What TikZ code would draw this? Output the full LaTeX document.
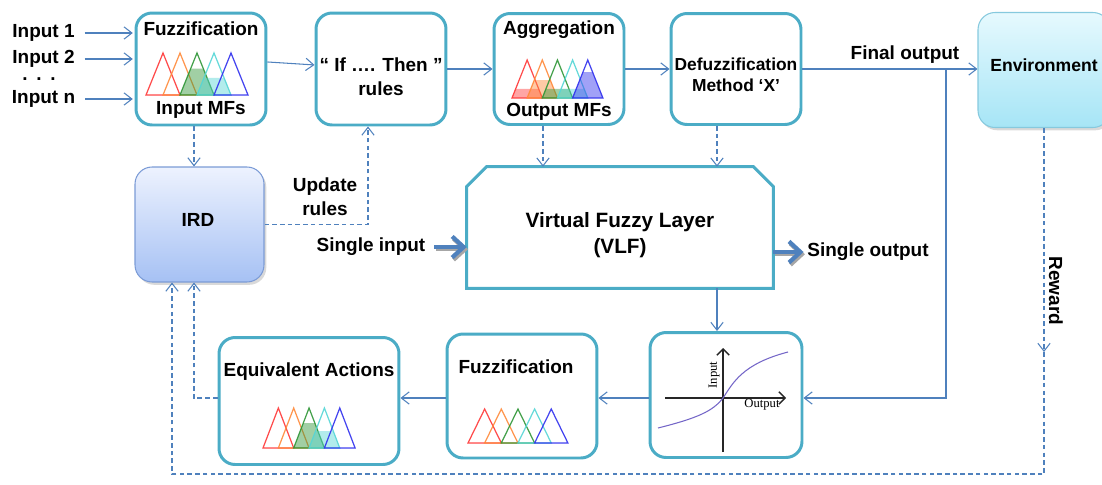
\documentclass[tikz,border=0pt]{standalone}
\usepackage{fontspec}
\setmainfont{Liberation Sans}
\newfontfamily\graphfont{Liberation Serif}
\usetikzlibrary{arrows.meta,calc,shadows}

\definecolor{boxc}{HTML}{4BACC6}
\definecolor{arrc}{HTML}{4F81BD}
\definecolor{mfred}{HTML}{FF3838}
\definecolor{mforange}{HTML}{FF8A3A}
\definecolor{mfgreen}{HTML}{2F9637}
\definecolor{mfcyan}{HTML}{55D6D6}
\definecolor{mfblue}{HTML}{3030EE}
\definecolor{envtop}{HTML}{E6F9FE}
\definecolor{envbot}{HTML}{A6E5F6}
\definecolor{envline}{HTML}{86C9DE}
\definecolor{irdtop}{HTML}{EDF2FE}
\definecolor{irdbot}{HTML}{A6C1F4}
\definecolor{irdline}{HTML}{7B9BD6}
\definecolor{curvec}{HTML}{7466C8}

% one triangular membership function, optionally filled up to a fraction of its height
% #1 left x, #2 base y, #3 base width, #4 height, #5 colour, #6 filled fraction
\newcommand{\mftri}[6]{%
  \fill[#5, fill opacity=0.45] ({#1},{#2}) -- ({#1+#3},{#2})
    -- ({#1+#3-#6*#3/2},{#2-#6*#4}) -- ({#1+#6*#3/2},{#2-#6*#4}) -- cycle;
  \draw[#5, line width=0.7pt, draw opacity=0.9, line join=miter]
    ({#1},{#2}) -- ({#1+#3/2},{#2-#4}) -- ({#1+#3},{#2}) -- cycle;
}
% five overlapping membership functions
\newcommand{\mfrow}[9]{%
  \mftri{#1}{#2}{#3}{#4}{mfred}{#5}
  \mftri{#1+0.5*#3}{#2}{#3}{#4}{mforange}{#6}
  \mftri{#1+1.0*#3}{#2}{#3}{#4}{mfgreen}{#7}
  \mftri{#1+1.5*#3}{#2}{#3}{#4}{mfcyan}{#8}
  \mftri{#1+2.0*#3}{#2}{#3}{#4}{mfblue}{#9}
}

\begin{document}
\begin{tikzpicture}[x=0.02cm, y=-0.02cm,
  box/.style={draw=boxc, line width=1.7pt, rounded corners=0.32cm, fill=white, inner sep=0pt},
  lbl/.style={font=\fontsize{10.8}{13.5}\selectfont\bfseries, inner sep=0pt, align=center},
  arr/.style={draw=arrc, line width=0.6pt, -{Straight Barb[length=4.5pt,width=7pt]}},
  darr/.style={arr, dash pattern=on 2.6pt off 1.8pt},
  bigarr/.style={draw=arrc, line width=2.4pt, -{Straight Barb[length=6.5pt,width=12pt]}},
  bigshadow/.style={draw=black!35, line width=2.4pt, -{Straight Barb[length=6.5pt,width=12pt]},
    transform canvas={shift={(0.8pt,-1.3pt)}}},
  shaded/.style={line width=0.6pt, rounded corners=0.34cm, inner sep=0pt,
    drop shadow={shadow xshift=1.3pt, shadow yshift=-1.6pt, opacity=0.3}},
  graphlbl/.style={font=\graphfont\fontsize{7.2}{8}\selectfont, inner sep=0pt}
]
\useasboundingbox (0,0) rectangle (1102,484);

% ---------- top row ----------
\node[box, minimum width=2.6cm, minimum height=2.24cm] (fz1) at (201,69) {};
\node[box, minimum width=2.6cm, minimum height=2.24cm] (ifr) at (381,69) {};
\node[box, minimum width=2.6cm, minimum height=2.22cm] (agg) at (559,69) {};
\node[box, minimum width=2.6cm, minimum height=2.22cm] (dfz) at (736,69) {};
\node[shaded, draw=envline, top color=envtop, bottom color=envbot,
      minimum width=2.64cm, minimum height=2.3cm] (env) at (1044,70) {};

\node[lbl] (fz1t) at (201,29) {Fuzzification};
\node[lbl] (fz1b) at (201,110) {Input MFs};
\mfrow{146}{95}{34}{42}{0}{0}{0.63}{0.41}{0}

\node[lbl, font=\fontsize{10.8}{13.6}\selectfont\bfseries] (ift) at (381,77) {“ If …. Then ”\\rules};

\node[lbl] (aggt) at (559,30) {Aggregation};
\node[lbl] (aggb) at (559,112) {Output MFs};
\mfrow{512}{98}{30.3}{38}{0.24}{0.47}{0.24}{0.24}{0.68}

\node[lbl, font=\fontsize{9.9}{12}\selectfont\bfseries] (dfzt) at (736,75) {Defuzzification\\Method ‘X’};
\node[lbl, font=\fontsize{10}{12}\selectfont\bfseries] (envt) at (1044,65) {Environment};

% inputs
\node[lbl] (in1) at (43.5,33) {Input 1};
\node[lbl] (in2) at (43.5,59) {Input 2};
\node[lbl] (indots) at (39,79) {.\hspace{5pt}.\hspace{5pt}.};
\node[lbl] (inn) at (43.5,99) {Input n};
\foreach \n in {in1,in2,inn}
  \draw[arr, shorten <=5.5pt, shorten >=1pt] (\n.east) -- (\n.east -| fz1.west);

% ---------- middle row ----------
\node[shaded, draw=irdline, top color=irdtop, bottom color=irdbot,
      minimum width=2.58cm, minimum height=2.3cm] (ird) at (199.5,224.5) {};
\node[lbl] (irdt) at (198,220) {IRD};

\node[lbl] (updt) at (325,197) {Update\\rules};

\node[minimum width=6.12cm, minimum height=2.42cm, inner sep=0pt] (vlf) at (620,227.5) {};
\draw[boxc, line width=1.7pt, line join=miter]
  (vlf.south west) -- ($(vlf.north west)+(0,20)$) -- ($(vlf.north west)+(20,0)$)
  -- ($(vlf.north east)+(-20,0)$) -- ($(vlf.north east)+(0,20)$) -- (vlf.south east) -- cycle;
\node[lbl, font=\fontsize{11.8}{14.8}\selectfont\bfseries] (vlft) at (620,235) {Virtual Fuzzy Layer\\(VLF)};

\node[lbl] (sin) at (371,247) {Single input};
\node[lbl] (sout) at (868,252) {Single output};

\node[lbl] (fout) at (905,55) {Final output};
\node[lbl, rotate=-90] (rwd) at (1056,291) {Reward};

% ---------- bottom row ----------
\node[box, minimum width=3.04cm, minimum height=2.5cm] (graph) at (726,395) {};
\node[box, minimum width=3.0cm, minimum height=2.48cm] (fz2) at (522,396) {};
\node[box, minimum width=3.6cm, minimum height=2.54cm] (ea) at (309,401) {};

\node[lbl] (fz2t) at (516,367) {Fuzzification};
\mfrow{468}{443}{33.3}{34}{0}{0}{0}{0}{0}

\node[lbl] (eat) at (309,372) {Equivalent Actions};
\mfrow{263}{448}{30.7}{40}{0}{0}{0.62}{0.42}{0}

% input/output characteristic
\draw[black!85, line width=0.8pt, -{Straight Barb[length=3.5pt,width=7pt]}] (665,398) -- (786,398);
\draw[black!85, line width=0.8pt, -{Straight Barb[length=3.5pt,width=7pt]}] (723,452) -- (723,348);
\draw[curvec, line width=0.6pt] (658,428) .. controls (698,418) and (713,411) .. (723,398)
  .. controls (733,383) and (742,364) .. (788,352);
\node[graphlbl, rotate=90] (gin) at (714,375) {Input};
\node[graphlbl] (gout) at (762,405) {Output};

% ---------- connectors ----------
\coordinate (colA) at (194,0);
\coordinate (colB) at (543,0);
\coordinate (colC) at (717,0);
\coordinate (colD) at (946,0);
\coordinate (updx) at (368,0);
\coordinate (rowY) at (0,398);
\coordinate (rwx) at (1044,352);
\coordinate (loopb) at (172,474);

\draw[arr] ([yshift=4pt]fz1.east) -- ([yshift=2.3pt]ifr.west);
\draw[arr] (ifr.east) -- (agg.west);
\draw[arr] (agg.east) -- (agg.east -| dfz.west);
\draw[arr] (dfz.east) -- (dfz.east -| env.west);
\draw[arr] (dfz.east -| colD) |- (graph.east |- rowY);

\draw[darr] (fz1.south -| colA) -- (ird.north -| colA);
\draw[darr] (ird.east) -| (ifr.south -| updx);
\draw[darr] (agg.south -| colB) -- (vlf.north -| colB);
\draw[darr] (dfz.south -| colC) -- (vlf.north -| colC);
\draw[arr] (vlf.south -| colC) -- (graph.north -| colC);

% thick arrows with a grey drop shadow
\draw[bigshadow, shorten <=5pt] (sin.east) -- (sin.east -| vlf.west);
\draw[bigarr, shorten <=5pt] (sin.east) -- (sin.east -| vlf.west);
\draw[bigshadow, shorten >=2pt] (vlf.east |- sout) -- (sout.west);
\draw[bigarr, shorten >=2pt] (vlf.east |- sout) -- (sout.west);

\draw[arr] (graph.west |- rowY) -- (fz2.east |- rowY);
\draw[arr] (fz2.west |- rowY) -- (ea.east |- rowY);
\draw[darr] (ea.west |- rowY) -| (ird.south -| colA);

\draw[darr] (env.south) -- (rwx);
\draw[darr] (rwx) |- (loopb) -- (ird.south -| loopb);
\end{tikzpicture}
\end{document}
